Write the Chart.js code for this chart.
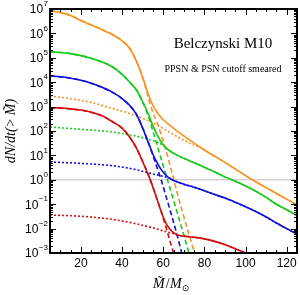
<!DOCTYPE html>
<html>
<head>
<meta charset="utf-8">
<script src="https://cdn.jsdelivr.net/npm/chart.js@4.4.1/dist/chart.umd.min.js"></script>
<style>
  html, body { margin: 0; padding: 0; background: #fff; }
  #c { display: block; }
</style>
</head>
<body>
<canvas id="c" width="300" height="295"></canvas>
<script>
// ---- values (x = M~/Msun, y = dN/dt(>M~)) ----
// solid = total, dashed = with cutoff, dotted = smeared part
const orangeTotX  = [5, 10, 15, 20, 25, 30, 35, 40, 44, 47, 50, 53, 55, 57, 59, 61, 63, 66, 70, 75, 80, 85, 90, 95, 100, 105, 110, 115, 120, 125];
const orangeTotY  = [8.5e6, 7.2e6, 5.4e6, 3.4e6, 2.2e6, 1.45e6, 9.3e5, 5.0e5, 2.24e5, 7.1e4, 1.58e4, 2.8e3, 1.12e3, 5.9e2, 3.6e2, 2.45e2, 1.78e2, 1.12e2, 63, 31.6, 16.6, 9.3, 5.2, 2.8, 1.48, 0.83, 0.48, 0.275, 0.162, 0.095];
const orangeCutX  = [5, 10, 15, 20, 25, 30, 35, 40, 44, 47, 50, 53, 55, 57, 59, 61, 63, 65, 67, 69, 71, 73, 75, 76];
const orangeCutY  = [8.5e6, 7.2e6, 5.4e6, 3.4e6, 2.2e6, 1.45e6, 9.3e5, 5.0e5, 2.24e5, 7.1e4, 1.58e4, 2.0e3, 5.6e2, 2.24e2, 71, 20, 5.0, 1.12, 0.25, 0.06, 0.0158, 4.2e-3, 1.12e-3, 5.6e-4];
const orangeSmX   = [5, 15, 25, 35, 45, 55, 63, 70, 75, 78, 80, 85, 90, 95, 100, 105, 110, 115, 120, 125];
const orangeSmY   = [2.7e3, 2.1e3, 1.48e3, 8.5e2, 4.8e2, 2.14e2, 89, 42, 26, 21.4, 16.6, 9.3, 5.2, 2.8, 1.48, 0.83, 0.48, 0.275, 0.162, 0.095];

const greenTotX   = [5, 10, 15, 20, 25, 30, 35, 40, 44, 47, 50, 53, 55, 57, 59, 61, 63, 66, 70, 75, 80, 85, 90, 95, 100, 105, 110, 115, 120, 125];
const greenTotY   = [1.74e5, 1.66e5, 1.48e5, 1.23e5, 9.5e4, 6.9e4, 4.4e4, 2.1e4, 9.5e3, 4.8e3, 1.58e3, 4.5e2, 1.66e2, 71, 35.5, 21.9, 15.8, 11, 7.6, 5.0, 3.3, 2.1, 1.32, 0.87, 0.56, 0.34, 0.19, 0.1, 0.059, 0.034];
const greenCutX   = [5, 10, 15, 20, 25, 30, 35, 40, 44, 47, 50, 53, 55, 57, 59, 61, 63, 65, 67, 69, 71, 72.5, 73.5];
const greenCutY   = [1.74e5, 1.66e5, 1.48e5, 1.23e5, 9.5e4, 6.9e4, 4.4e4, 2.1e4, 9.5e3, 4.8e3, 1.58e3, 3.55e2, 1.0e2, 27, 7.2, 2.0, 0.54, 0.148, 0.04, 0.0107, 2.8e-3, 1.0e-3, 5e-4];
const greenSmX    = [5, 20, 35, 45, 55, 60, 61, 63, 66, 70, 75, 80, 85, 90, 95, 100, 105, 110, 115, 120, 125];
const greenSmY    = [145, 117, 91, 66, 40, 26, 21.9, 15.8, 11, 7.6, 5.0, 3.3, 2.1, 1.32, 0.87, 0.56, 0.34, 0.19, 0.1, 0.059, 0.034];

const blueTotX    = [5, 10, 15, 20, 25, 30, 35, 40, 44, 47, 50, 53, 55, 57, 59, 61, 63, 66, 70, 75, 80, 85, 90, 95, 100, 105, 110, 115, 120, 125];
const blueTotY    = [1.78e4, 1.66e4, 1.45e4, 1.2e4, 9.1e3, 6.3e3, 4.0e3, 2.14e3, 1.05e3, 4.8e2, 1.32e2, 30, 11.2, 5.0, 2.63, 1.66, 1.17, 0.87, 0.66, 0.5, 0.355, 0.25, 0.178, 0.12, 0.079, 0.05, 0.03, 0.017, 0.01, 0.006];
const blueCutX    = [5, 10, 15, 20, 25, 30, 35, 40, 44, 47, 50, 53, 55, 57, 59, 61, 63, 65, 67, 69, 70];
const blueCutY    = [1.78e4, 1.66e4, 1.45e4, 1.2e4, 9.1e3, 6.3e3, 4.0e3, 2.14e3, 1.05e3, 4.8e2, 1.32e2, 30, 10, 3.16, 1.0, 0.27, 0.071, 0.0186, 4.5e-3, 1.0e-3, 5e-4];
const blueSmX     = [5, 20, 35, 45, 55, 60, 63, 66, 70, 75, 80, 85, 90, 95, 100, 105, 110, 115, 120, 125];
const blueSmY     = [5.4, 4.7, 3.8, 2.8, 1.74, 1.38, 1.17, 0.87, 0.66, 0.5, 0.355, 0.25, 0.178, 0.12, 0.079, 0.05, 0.03, 0.017, 0.01, 0.006];

const redTotX     = [5, 10, 15, 20, 25, 30, 35, 40, 44, 47, 50, 53, 55, 57, 59, 61, 63, 65, 67, 70, 75, 80, 85, 90, 95, 100, 102];
const redTotY     = [8.9e2, 8.7e2, 8.1e2, 7.2e2, 5.9e2, 4.3e2, 2.5e2, 1.32e2, 52, 20, 5.6, 1.41, 0.5, 0.158, 0.05, 0.019, 0.01, 6.8e-3, 5.5e-3, 4.9e-3, 4.4e-3, 3.8e-3, 3.0e-3, 2.2e-3, 1.48e-3, 1.0e-3, 8.5e-4];
const redCutX     = [5, 10, 15, 20, 25, 30, 35, 40, 44, 47, 50, 53, 55, 57, 59, 61, 63, 65, 66];
const redCutY     = [8.9e2, 8.7e2, 8.1e2, 7.2e2, 5.9e2, 4.3e2, 2.5e2, 1.32e2, 52, 20, 5.6, 1.41, 0.5, 0.158, 0.05, 0.014, 3.8e-3, 1.0e-3, 5e-4];
const redSmX      = [5, 20, 35, 45, 55, 62, 65, 67, 70, 75, 80, 85, 90, 95, 100, 102];
const redSmY      = [0.036, 0.032, 0.024, 0.017, 0.0107, 7.2e-3, 6.3e-3, 5.5e-3, 4.9e-3, 4.4e-3, 3.8e-3, 3.0e-3, 2.2e-3, 1.48e-3, 1.0e-3, 8.5e-4];

const refLineX    = [5, 125];
const refLineY    = [1, 1];

const yTickExps   = [-3, -2, -1, 0, 1, 2, 3, 4, 5, 6, 7];
const xTickVals   = [20, 40, 60, 80, 100, 120];
const xMinorVals  = [5, 10, 15, 25, 30, 35, 45, 50, 55, 65, 70, 75, 85, 90, 95, 105, 110, 115, 125];

const ORANGE = 'rgb(247,146,30)';
const GREEN  = 'rgb(25,200,25)';
const BLUE   = 'rgb(15,15,215)';
const RED    = 'rgb(210,15,15)';

const SANS  = '"Liberation Sans", Arial, sans-serif';
const SERIF = '"Liberation Serif", "Times New Roman", serif';

function pts(xs, ys) {
  return xs.map((x, i) => ({ x, y: ys[i] }));
}

function line(xs, ys, color, kind) {
  const ds = {
    data: pts(xs, ys),
    borderColor: color,
    borderWidth: 1.6,
    pointRadius: 0,
    cubicInterpolationMode: 'monotone',
    order: 0,
  };
  if (kind === 'dash') { ds.borderDash = [5, 3]; ds.order = 1; }
  if (kind === 'dot') { ds.borderDash = [2, 2]; ds.order = 2; }
  return ds;
}

//
// frame, inward ticks, tick labels and text
//
const decor = {
  id: 'decor',
  afterDraw(chart) {
    const { ctx, chartArea: a, scales: { x, y } } = chart;
    ctx.save();

    // ticks on all four sides, pointing in
    ctx.strokeStyle = '#000';
    ctx.lineWidth = 1;
    ctx.beginPath();
    for (const e of yTickExps) {
      for (let m = 1; m <= 9; m++) {
        if (e === 7 && m > 1) break;
        const py = Math.round(y.getPixelForValue(m * Math.pow(10, e))) + 0.5;
        const len = m === 1 ? 6 : 3;
        ctx.moveTo(a.left, py); ctx.lineTo(a.left + len, py);
        ctx.moveTo(a.right, py); ctx.lineTo(a.right - len, py);
      }
    }
    for (const v of xTickVals.concat(xMinorVals)) {
      const px = Math.round(x.getPixelForValue(v)) + 0.5;
      const len = xTickVals.includes(v) ? 6 : 3;
      ctx.moveTo(px, a.bottom); ctx.lineTo(px, a.bottom - len);
      ctx.moveTo(px, a.top); ctx.lineTo(px, a.top + len);
    }
    ctx.stroke();

    ctx.lineWidth = 2;
    ctx.strokeRect(a.left, a.top, a.right - a.left, a.bottom - a.top);

    // y tick labels 10^n
    ctx.fillStyle = '#000';
    ctx.textBaseline = 'middle';
    ctx.textAlign = 'right';
    for (const e of yTickExps) {
      const py = y.getPixelForValue(Math.pow(10, e));
      const sup = e < 0 ? '\u2212' + (-e) : String(e);
      ctx.font = '8px ' + SANS;
      const sw = ctx.measureText(sup).width;
      ctx.fillText(sup, a.left - 2, py - 5);
      ctx.font = '12px ' + SANS;
      ctx.fillText('10', a.left - 2 - sw - 0.5, py + 1);
    }

    // x tick labels
    ctx.textAlign = 'center';
    ctx.font = '12px ' + SANS;
    for (const v of xTickVals) {
      ctx.fillText(String(v), x.getPixelForValue(v), a.bottom + 11);
    }

    // annotation
    ctx.font = '15px ' + SERIF;
    ctx.fillText('Belczynski M10', 223, 44);
    ctx.font = '10px ' + SERIF;
    ctx.fillText('PPSN & PSN cutoff smeared', 223, 69);

    // x axis title  M~ / M_sun
    ctx.textAlign = 'left';
    ctx.textBaseline = 'alphabetic';
    const base = 288;
    let cx = 153;
    ctx.font = 'italic 14px ' + SERIF;
    ctx.fillText('M\u0303', cx, base);
    cx += ctx.measureText('M').width + 1;
    ctx.font = '14px ' + SERIF;
    ctx.fillText('/', cx, base);
    cx += ctx.measureText('/').width + 0.5;
    ctx.font = 'italic 14px ' + SERIF;
    ctx.fillText('M', cx, base);
    cx += ctx.measureText('M').width;
    ctx.font = '9px "DejaVu Sans", sans-serif';
    ctx.fillText('\u2299', cx, base + 3);

    // y axis title
    ctx.translate(15, 131);
    ctx.rotate(-Math.PI / 2);
    ctx.textAlign = 'center';
    ctx.font = 'italic 14px ' + SERIF;
    ctx.fillText('dN/dt(>\u2009M\u0303)', 0, 0);

    ctx.restore();
  }
};

new Chart(document.getElementById('c'), {
  type: 'line',
  data: {
    datasets: [
      line(orangeTotX, orangeTotY, ORANGE, 'solid'),
      line(greenTotX, greenTotY, GREEN, 'solid'),
      line(blueTotX, blueTotY, BLUE, 'solid'),
      line(redTotX, redTotY, RED, 'solid'),
      line(orangeCutX, orangeCutY, ORANGE, 'dash'),
      line(greenCutX, greenCutY, GREEN, 'dash'),
      line(blueCutX, blueCutY, BLUE, 'dash'),
      line(redCutX, redCutY, RED, 'dash'),
      line(orangeSmX, orangeSmY, ORANGE, 'dot'),
      line(greenSmX, greenSmY, GREEN, 'dot'),
      line(blueSmX, blueSmY, BLUE, 'dot'),
      line(redSmX, redSmY, RED, 'dot'),
      {
        data: pts(refLineX, refLineY),
        borderColor: 'rgb(190,190,190)',
        borderWidth: 1,
        pointRadius: 0,
        order: 3,
      },
    ],
  },
  options: {
    responsive: false,
    animation: false,
    events: [],
    layout: { padding: { top: 9, right: 3, left: 0, bottom: 0 } },
    plugins: { legend: { display: false }, tooltip: { enabled: false } },
    scales: {
      x: {
        type: 'linear',
        min: 5,
        max: 125,
        grid: { display: false },
        border: { display: false },
        ticks: { display: false },
        afterFit(s) { s.height = 42; },
      },
      y: {
        type: 'logarithmic',
        min: 1e-3,
        max: 1e7,
        grid: { display: false },
        border: { display: false },
        ticks: { display: false },
        afterFit(s) { s.width = 50; },
      },
    },
  },
  plugins: [decor],
});
</script>
</body>
</html>
